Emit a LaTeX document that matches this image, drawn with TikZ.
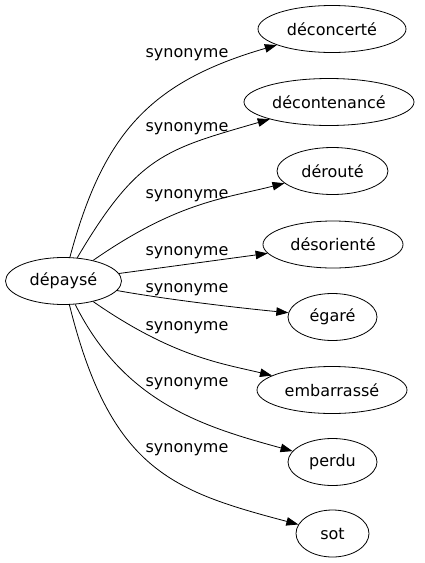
\documentclass[tikz,border=0pt]{standalone}
\usepackage{fontspec}
\setmainfont{DejaVu Sans}
\usetikzlibrary{shapes.geometric,arrows.meta}
\begin{document}
\begin{tikzpicture}[x=1pt,y=-1pt,
  word/.style={ellipse,draw,line width=0.8pt,inner sep=0pt,minimum height=47pt,font=\fontsize{16}{19}\selectfont},
  lbl/.style={anchor=base,inner sep=0pt,font=\fontsize{16}{19}\selectfont},
  syn/.style={line width=0.8pt,-{Triangle[length=12pt,width=8.5pt]}}]
\useasboundingbox (0,0) rectangle (424,563);
\node[word,minimum width=116pt] (dep) at (63.5,281) {dépaysé};
\node[word,minimum width=148pt] (t1) at (332,29) {déconcerté};
\node[word,minimum width=170pt] (t2) at (329,102) {décontenancé};
\node[word,minimum width=111pt] (t3) at (332.5,171) {dérouté};
\node[word,minimum width=140pt] (t4) at (333,244.5) {désorienté};
\node[word,minimum width=89pt] (t5) at (332.5,317) {égaré};
\node[word,minimum width=150pt] (t6) at (332,390) {embarrassé};
\node[word,minimum width=89pt] (t7) at (332.5,462) {perdu};
\node[word,minimum width=73pt] (t8) at (332.5,533.5) {sot};
\draw[syn] (dep) .. controls (103,134) and (149.5,82) .. (t1);
\draw[syn] (dep) .. controls (138,155) and (165,149.6) .. (t2);
\draw[syn] (dep) .. controls (177,202) and (224,198.6) .. (t3);
\draw[syn] (dep) -- (t4);
\draw[syn] (dep) .. controls (170,300) and (240,308) .. (t5);
\draw[syn] (dep) .. controls (173,357) and (222,363.5) .. (t6);
\draw[syn] (dep) .. controls (124.5,403) and (203.6,426.8) .. (t7);
\draw[syn] (dep) .. controls (110.5,470) and (172,491) .. (t8);
\node[lbl] (l1) at (187,57) {synonyme};
\node[lbl] (l2) at (187,131) {synonyme};
\node[lbl] (l3) at (187,198) {synonyme};
\node[lbl] (l4) at (187,255) {synonyme};
\node[lbl] (l5) at (187,292) {synonyme};
\node[lbl] (l6) at (187,330) {synonyme};
\node[lbl] (l7) at (187,386) {synonyme};
\node[lbl] (l8) at (187,452) {synonyme};
\end{tikzpicture}
\end{document}
